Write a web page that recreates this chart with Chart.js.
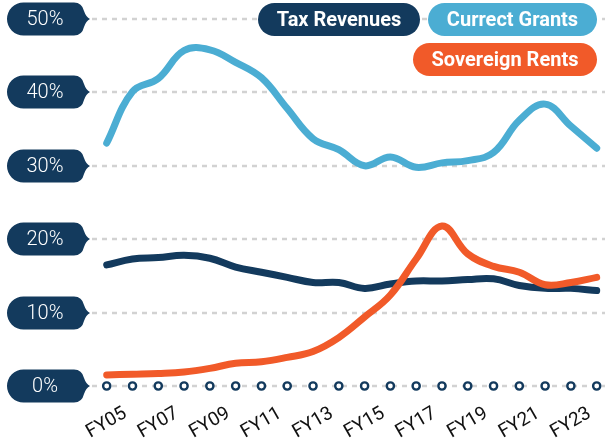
<!DOCTYPE html>
<html>
<head>
<meta charset="utf-8">
<script src="https://cdn.jsdelivr.net/npm/chart.js@4/dist/chart.umd.min.js"></script>
<style>
    html, body { margin: 0; padding: 0; background: #fff; }
    #wrap { width: 605px; height: 444px; position: relative; }
</style>
</head>
<body>
<div id="wrap"><canvas id="chart"></canvas></div>
<script>
const years = ['FY05','FY06','FY07','FY08','FY09','FY10','FY11','FY12','FY13','FY14',
               'FY15','FY16','FY17','FY18','FY19','FY20','FY21','FY22','FY23','FY24'];
const taxRevenues = [16.5, 17.3, 17.5, 17.8, 17.4, 16.2, 15.5, 14.8, 14.1, 14.1,
                     13.3, 13.9, 14.3, 14.3, 14.5, 14.6, 13.7, 13.3, 13.3, 13.0];
const currectGrants = [33.1, 40.1, 41.9, 45.7, 45.8, 44.1, 42.0, 37.8, 33.7, 32.2,
                       30.0, 31.2, 29.8, 30.4, 30.7, 31.8, 36.2, 38.4, 35.4, 32.4];
const sovereignRents = [1.5, 1.6, 1.7, 1.9, 2.4, 3.1, 3.3, 3.9, 4.7, 6.6,
                        9.4, 12.4, 17.3, 21.8, 18.0, 16.3, 15.5, 13.8, 14.1, 14.8];
const yTicks = [0, 10, 20, 30, 40, 50];

const NAVY = '#133a5d';
const BLUE = '#4badd3';
const ORANGE = '#f15a29';

// tag-shaped label on the left of each gridline
const drawTag = (ctx, cy) => {
    const x0 = 7, x1 = 82, tip = 90, top = cy - 16.5, bot = cy + 16.5, r = 16.5;
    ctx.beginPath();
    ctx.moveTo(x0 + r, top);
    ctx.lineTo(x1 - 8, top);
    ctx.quadraticCurveTo(x1, top, x1 + 2, cy - 8);
    ctx.quadraticCurveTo(x1 + 4, cy - 2, tip, cy);
    ctx.quadraticCurveTo(x1 + 4, cy + 2, x1 + 2, cy + 8);
    ctx.quadraticCurveTo(x1, bot, x1 - 8, bot);
    ctx.lineTo(x0 + r, bot);
    ctx.arc(x0 + r, cy, r, Math.PI / 2, Math.PI * 1.5);
    ctx.closePath();
    ctx.fillStyle = NAVY;
    ctx.fill();
};

const pill = (ctx, x, y, w, h, color, text) => {
    const r = h / 2;
    ctx.beginPath();
    ctx.moveTo(x + r, y);
    ctx.lineTo(x + w - r, y);
    ctx.arc(x + w - r, y + r, r, -Math.PI / 2, Math.PI / 2);
    ctx.lineTo(x + r, y + h);
    ctx.arc(x + r, y + r, r, Math.PI / 2, Math.PI * 1.5);
    ctx.closePath();
    ctx.fillStyle = color;
    ctx.fill();
    ctx.fillStyle = '#fff';
    ctx.font = 'bold 20px Roboto';
    ctx.textAlign = 'center';
    ctx.textBaseline = 'middle';
    ctx.fillText(text, x + w / 2, y + h / 2 + 1);
};

const decor = {
    id: 'decor',
    beforeDatasetsDraw(chart) {
        const { ctx, scales: { x, y } } = chart;
        ctx.save();
        // dashed gridlines
        ctx.strokeStyle = '#d2d2d2';
        ctx.lineWidth = 2.5;
        ctx.setLineDash([5, 5]);
        yTicks.forEach(v => {
            const py = Math.round(y.getPixelForValue(v));
            ctx.beginPath();
            ctx.moveTo(92, py);
            ctx.lineTo(605, py);
            ctx.stroke();
        });
        ctx.setLineDash([]);
        // tags with values
        yTicks.forEach(v => {
            const py = Math.round(y.getPixelForValue(v));
            drawTag(ctx, py);
            ctx.fillStyle = '#fff';
            ctx.font = '300 20px Roboto';
            ctx.textAlign = 'center';
            ctx.textBaseline = 'middle';
            ctx.fillText(v + '%', 45, py + 1);
        });
        // circles along the base
        const by = Math.round(y.getPixelForValue(0));
        years.forEach((_, i) => {
            const px = x.getPixelForValue(i);
            ctx.beginPath();
            ctx.arc(px, by, 3.6, 0, Math.PI * 2);
            ctx.fillStyle = '#fff';
            ctx.fill();
            ctx.lineWidth = 2.4;
            ctx.strokeStyle = NAVY;
            ctx.stroke();
        });
        // rotated year labels, every other year
        ctx.fillStyle = '#111';
        ctx.font = '19px Roboto';
        ctx.textAlign = 'center';
        ctx.textBaseline = 'middle';
        years.forEach((lab, i) => {
            if (i % 2 !== 0) return;
            ctx.save();
            ctx.translate(x.getPixelForValue(i), by + 37);
            ctx.rotate(-Math.PI / 6);
            ctx.fillText(lab, 0, 0);
            ctx.restore();
        });
        ctx.restore();
    },
    afterDraw(chart) {
        const { ctx } = chart;
        ctx.save();
        pill(ctx, 258, 3, 162, 33, NAVY, 'Tax Revenues');
        pill(ctx, 428, 3, 169, 33, BLUE, 'Currect Grants');
        pill(ctx, 413, 43, 184, 33, ORANGE, 'Sovereign Rents');
        ctx.restore();
    }
};

const lineStyle = {
    borderWidth: 7,
    pointRadius: 0,
    tension: 0.4,
    fill: false,
    borderCapStyle: 'round',
    borderJoinStyle: 'round',
    clip: false
};

new Chart(document.getElementById('chart'), {
    type: 'line',
    data: {
        labels: years,
        datasets: [
            { ...lineStyle, label: 'Tax Revenues', data: taxRevenues, borderColor: NAVY, order: 2 },
            { ...lineStyle, label: 'Currect Grants', data: currectGrants, borderColor: BLUE, order: 3 },
            { ...lineStyle, label: 'Sovereign Rents', data: sovereignRents, borderColor: ORANGE, order: 1 }
        ]
    },
    options: {
        responsive: true,
        maintainAspectRatio: false,
        animation: false,
        devicePixelRatio: 1,
        layout: { padding: { left: 106.7, right: 8.3, top: 19, bottom: 58 } },
        plugins: { legend: { display: false }, tooltip: { enabled: false } },
        scales: {
            x: { display: false, offset: false },
            y: { display: false, min: 0, max: 50 }
        }
    },
    plugins: [decor]
});
</script>
</body>
</html>
